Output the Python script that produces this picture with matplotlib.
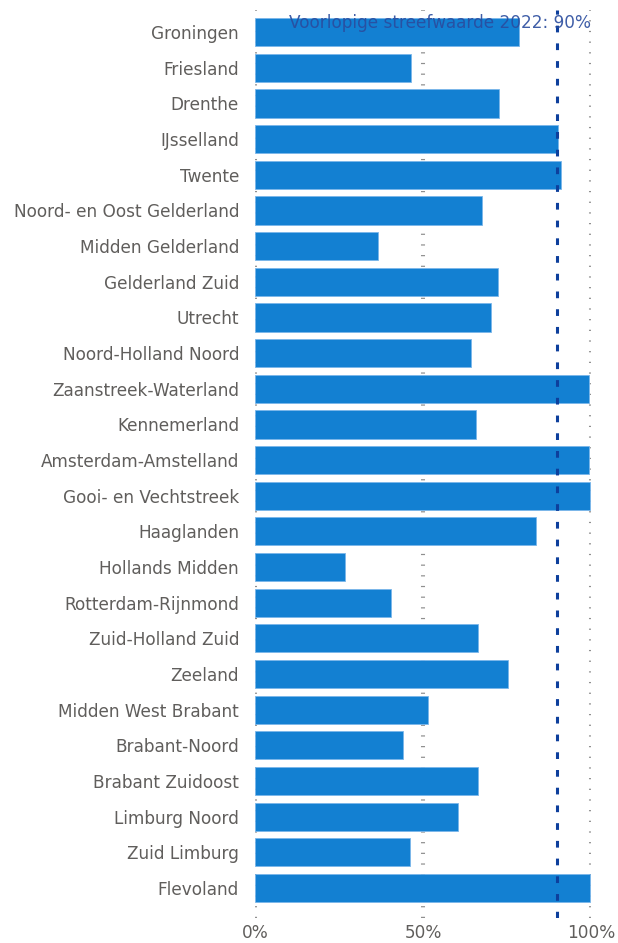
import matplotlib
matplotlib.use("Agg")
import matplotlib.pyplot as plt
from matplotlib.ticker import FuncFormatter

regions = [
    "Groningen", "Friesland", "Drenthe", "IJsselland", "Twente",
    "Noord- en Oost Gelderland", "Midden Gelderland", "Gelderland Zuid",
    "Utrecht", "Noord-Holland Noord", "Zaanstreek-Waterland", "Kennemerland",
    "Amsterdam-Amstelland", "Gooi- en Vechtstreek", "Haaglanden",
    "Hollands Midden", "Rotterdam-Rijnmond", "Zuid-Holland Zuid", "Zeeland",
    "Midden West Brabant", "Brabant-Noord", "Brabant Zuidoost",
    "Limburg Noord", "Zuid Limburg", "Flevoland",
]
values = [
    78.6, 46.4, 72.7, 90.1, 91.0,
    67.7, 36.6, 72.4,
    70.3, 64.2, 99.5, 65.9,
    99.5, 99.7, 83.6,
    26.7, 40.5, 66.5, 75.2,
    51.5, 44.1, 66.5,
    60.3, 46.0, 99.7,
]
target = 90
target_label = "Voorlopige streefwaarde 2022: 90%"
xticks = [0, 50, 100]

plt.rcParams['font.family'] = ['DejaVu Sans']

W, H = 618, 943
fig = plt.figure(figsize=(W / 100, H / 100), dpi=100)
ax = fig.add_axes([255 / W, (H - 918) / H, 336 / W, 908 / H])

ypos = list(range(len(regions)))
ax.barh(ypos, values, height=0.79, color="#1380d2", edgecolor="#7ab6ea",
        linewidth=0.6, zorder=2)

ax.set_xlim(0, 100)
ax.set_ylim(24.84, -0.62)

for xv in xticks:
    ax.axvline(xv, color="#8f8f8f", lw=2.9, linestyle=(0, (0.3, 2.35)), zorder=1)

ax.axvline(target, color="#0d3f9c", lw=2.2, linestyle=(0, (2.2, 3.6)), zorder=3)
ax.text(100, -0.25, target_label, ha="right", va="center", fontsize=12.2,
        color="#2a4c9e", alpha=0.9, zorder=4)

ax.set_yticks(ypos)
ax.set_yticklabels(regions)
ax.set_xticks(xticks)
ax.xaxis.set_major_formatter(FuncFormatter(lambda v, p: f"{int(v)}%"))
ax.tick_params(axis="both", length=0, labelsize=12.2, labelcolor="#605e5c")
ax.tick_params(axis="y", pad=11.5)
ax.tick_params(axis="x", pad=4.5)
for s in ax.spines.values():
    s.set_visible(False)
ax.grid(False)

fig.savefig("out.png", dpi=100)
